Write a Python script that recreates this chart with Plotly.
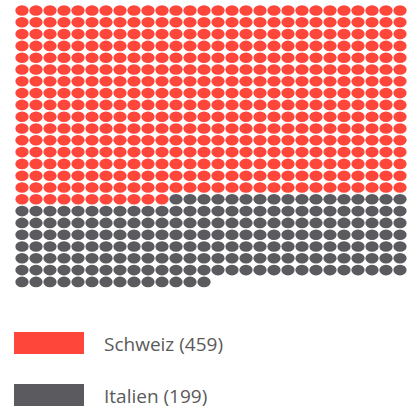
import plotly.graph_objects as go

# Waffle data: one dot per unit
categories = ["Schweiz", "Italien"]
values = [459, 199]
colors = ["#ff463b", "#5b5a5e"]
n_cols = 28

fig = go.Figure()

shapes = []
idx = 0
for cat, val, col in zip(categories, values, colors):
    xs, ys = [], []
    for _ in range(val):
        r, c = divmod(idx, n_cols)
        xs.append(c)
        ys.append(r)
        shapes.append(dict(
            type="circle", xref="x", yref="y",
            x0=c - 0.475, x1=c + 0.475, y0=r - 0.45, y1=r + 0.45,
            fillcolor=col, line=dict(width=0), layer="above",
        ))
        idx += 1
    fig.add_trace(go.Scatter(
        x=xs, y=ys, mode="markers", name=f"{cat} ({val})",
        marker=dict(size=10, color=col, opacity=0),
        hovertemplate=f"{cat}<extra></extra>", showlegend=False,
    ))

# Legend: wide colour swatches with labels underneath the grid
legend_top = [332, 384]
for (cat, val, col), top in zip(zip(categories, values, colors), legend_top):
    shapes.append(dict(
        type="rect", xref="paper", yref="paper",
        x0=14 / 414, x1=84 / 414,
        y0=1 - (top + 22) / 414, y1=1 - top / 414,
        fillcolor=col, line=dict(width=0),
    ))
    fig.add_annotation(
        xref="paper", yref="paper", x=102 / 414, y=1 - (top + 12) / 414,
        text=f"{cat} ({val})", showarrow=False, xanchor="left", yanchor="middle",
        font=dict(family="Open Sans", size=19, color="#5a5a5a"),
    )

fig.update_layout(
    width=414, height=414,
    margin=dict(l=0, r=0, t=0, b=0),
    paper_bgcolor="white", plot_bgcolor="white",
    shapes=shapes,
    xaxis=dict(range=[-22 / 14, (414 - 22) / 14], visible=False, fixedrange=True),
    yaxis=dict(range=[(414 - 10.5) / 11.8, -10.5 / 11.8], visible=False, fixedrange=True),
    showlegend=False,
)

fig.write_html("out.html")
